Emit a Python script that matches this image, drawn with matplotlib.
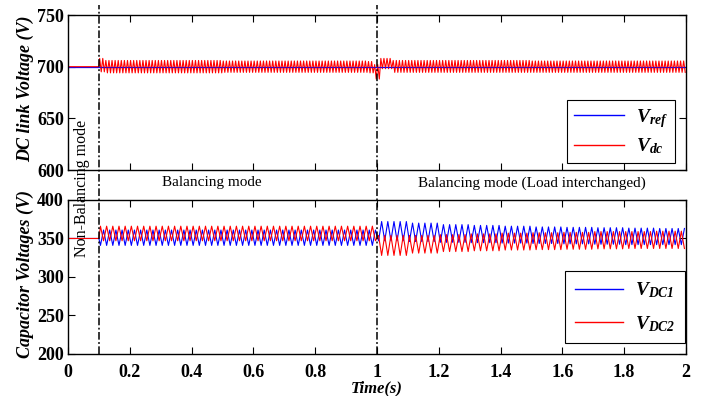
import numpy as np
import matplotlib
matplotlib.use('Agg')
import matplotlib.pyplot as plt
from matplotlib.lines import Line2D

plt.rcParams['font.family'] = ['Liberation Serif', 'DejaVu Serif']
plt.rcParams['mathtext.fontset'] = 'custom'
plt.rcParams['mathtext.it'] = 'Liberation Serif:italic:bold'
plt.rcParams['mathtext.rm'] = 'Liberation Serif:italic:bold'
plt.rcParams['mathtext.bf'] = 'Liberation Serif:italic:bold'

# ---- data ----
t_end = 2.0
t_switch = 0.1          # start of balancing
t_load = 1.0            # load interchanged

# DC link (ripple ~100 Hz)
vref = 700
vdc_f = 100
vdc_seg = [0.1, 0.12, 0.5, 0.97, 0.99, 1.01, 1.05, 1.5]
vdc_hi = [708, 706, 705.5, 705, 702, 708, 706, 705.5]
vdc_lo = [695, 694, 694.5, 694, 688, 698, 694.5, 694.5]

# capacitor voltages (ripple ~50 Hz, anti-phase)
vc0 = 350
vc_f = 50
vc_seg = [0.1, 1.0, 1.1, 1.2, 1.3, 1.4, 1.5, 1.6, 1.7, 1.8, 1.9]
vdc1_hi = [361, 372, 370, 368, 367, 366, 365, 364.5, 364, 363.5, 363]
vdc1_lo = [341, 347, 346, 345, 344.5, 344, 343.5, 343, 342.5, 342, 342]
vdc2_hi = [366, 354, 354, 355, 356, 357, 357.5, 358, 359, 359, 359.5]
vdc2_lo = [347, 328, 331, 333, 334, 335, 335.5, 336, 336.5, 337, 337]

xticks = [0, 0.2, 0.4, 0.6, 0.8, 1, 1.2, 1.4, 1.6, 1.8, 2]
xticklabels = ['0', '0.2', '0.4', '0.6', '0.8', '1', '1.2', '1.4', '1.6', '1.8', '2']
yticks_top = [600, 650, 700, 750]
yticks_bot = [200, 250, 300, 350, 400]


def ripple(base, seg, hi, lo, freq, first_high=True):
    # flat before the switch, then zig-zag between the read peak / trough values
    ts = [0.0, t_switch]
    vs = [base, base]
    k = 1
    t = t_switch + 0.5 / freq * 0.5
    while t <= t_end:
        i = np.searchsorted(seg, t, side='right') - 1
        up = (k % 2 == 1) == first_high
        ts.append(t)
        vs.append(hi[i] if up else lo[i])
        k += 1
        t += 0.5 / freq
    return np.array(ts), np.array(vs)


fig = plt.figure(figsize=(7.04, 3.96), dpi=100)
ax1 = fig.add_axes([0.0966, 0.5707, 0.8778, 0.3914])
ax2 = fig.add_axes([0.0966, 0.1061, 0.8778, 0.3889])

# top panel
t1, v1 = ripple(vref, vdc_seg, vdc_hi, vdc_lo, vdc_f)
ax1.plot([0, t_end], [vref, vref], color='#0000ff', lw=0.9)
ax1.plot(t1, v1, color='#ff0000', lw=0.8)
ax1.plot([t_switch, t_end], [vref, vref], color='#0000ff', lw=0.7, alpha=0.6)
ax1.set_xlim(0, 2)
ax1.set_ylim(600, 750)
ax1.set_xticks(xticks)
ax1.set_xticklabels([])
ax1.set_yticks(yticks_top)
ax1.set_yticklabels([str(v) for v in yticks_top], fontweight='bold')

# bottom panel
t2a, v2a = ripple(vc0, vc_seg, vdc1_hi, vdc1_lo, vc_f, first_high=False)
t2b, v2b = ripple(vc0, vc_seg, vdc2_hi, vdc2_lo, vc_f, first_high=True)
ax2.plot(t2a, v2a, color='#0000ff', lw=0.8)
ax2.plot(t2b, v2b, color='#ff0000', lw=0.8)
ax2.set_xlim(0, 2)
ax2.set_ylim(200, 400)
ax2.set_xticks(xticks)
ax2.set_xticklabels(xticklabels, fontweight='bold')
ax2.set_yticks(yticks_bot)
ax2.set_yticklabels([str(v) for v in yticks_bot], fontweight='bold')

for ax in (ax1, ax2):
    ax.tick_params(direction='in', top=True, right=True, length=5, width=0.8,
                   labelsize=13, pad=3)
    for s in ax.spines.values():
        s.set_linewidth(1.0)
ax2.tick_params(axis='x', pad=7)

# mode switching lines running across both panels
ax1.set_zorder(3)
ax1.patch.set_visible(False)
for tx in (t_switch, t_load):
    ax1.axvline(tx, ymin=-1.187, ymax=1.065, color='black', lw=1.1,
                linestyle=(0, (5, 1.6, 1.2, 1.6)), clip_on=False, zorder=5)

blue_h = Line2D([], [], color='#0000ff', lw=1.0)
red_h = Line2D([], [], color='#ff0000', lw=1.0)
leg1 = ax1.legend([blue_h, red_h], [r'$V_{ref}$', r'$V_{dc}$'], loc='upper left',
                  bbox_to_anchor=(567 / 704, 1 - 100 / 396), bbox_transform=fig.transFigure,
                  borderaxespad=0, fancybox=False, edgecolor='black', framealpha=1,
                  fontsize=14, handlelength=2.6, handletextpad=0.6,
                  labelspacing=0.35, borderpad=0.35)
leg1.get_frame().set_linewidth(0.8)
leg2 = ax2.legend([blue_h, red_h], [r'$V_{DC1}$', r'$V_{DC2}$'], loc='upper left',
                  bbox_to_anchor=(565 / 704, 1 - 271 / 396), bbox_transform=fig.transFigure,
                  borderaxespad=0, fancybox=False, edgecolor='black', framealpha=1,
                  fontsize=14, handlelength=2.5, handletextpad=0.6,
                  labelspacing=0.7, borderpad=0.5)
leg2.get_frame().set_linewidth(0.8)

# labels and annotations
fig.text(25 / 704, 0.7753, 'DC link Voltage (V)', rotation=90, ha='center', va='center',
         fontsize=13, fontweight='bold', fontstyle='italic')
fig.text(25 / 704, 0.3081, 'Capacitor Voltages (V)', rotation=90, ha='center', va='center',
         fontsize=13, fontweight='bold', fontstyle='italic')
fig.text(0.5355, 1 - 388 / 396, 'Time(s)', ha='center', va='center',
         fontsize=12, fontweight='bold', fontstyle='italic')
fig.text(0.3011, 0.5379, 'Balancing mode', ha='center', va='center', fontsize=11)
fig.text(0.7557, 0.5379, 'Balancing mode (Load interchanged)', ha='center', va='center', fontsize=11)
fig.text(0.1165, 0.5253, 'Non-Balancing mode', rotation=90, ha='center', va='center',
         fontsize=11.5, zorder=6)

fig.savefig('out.png', dpi=100)
